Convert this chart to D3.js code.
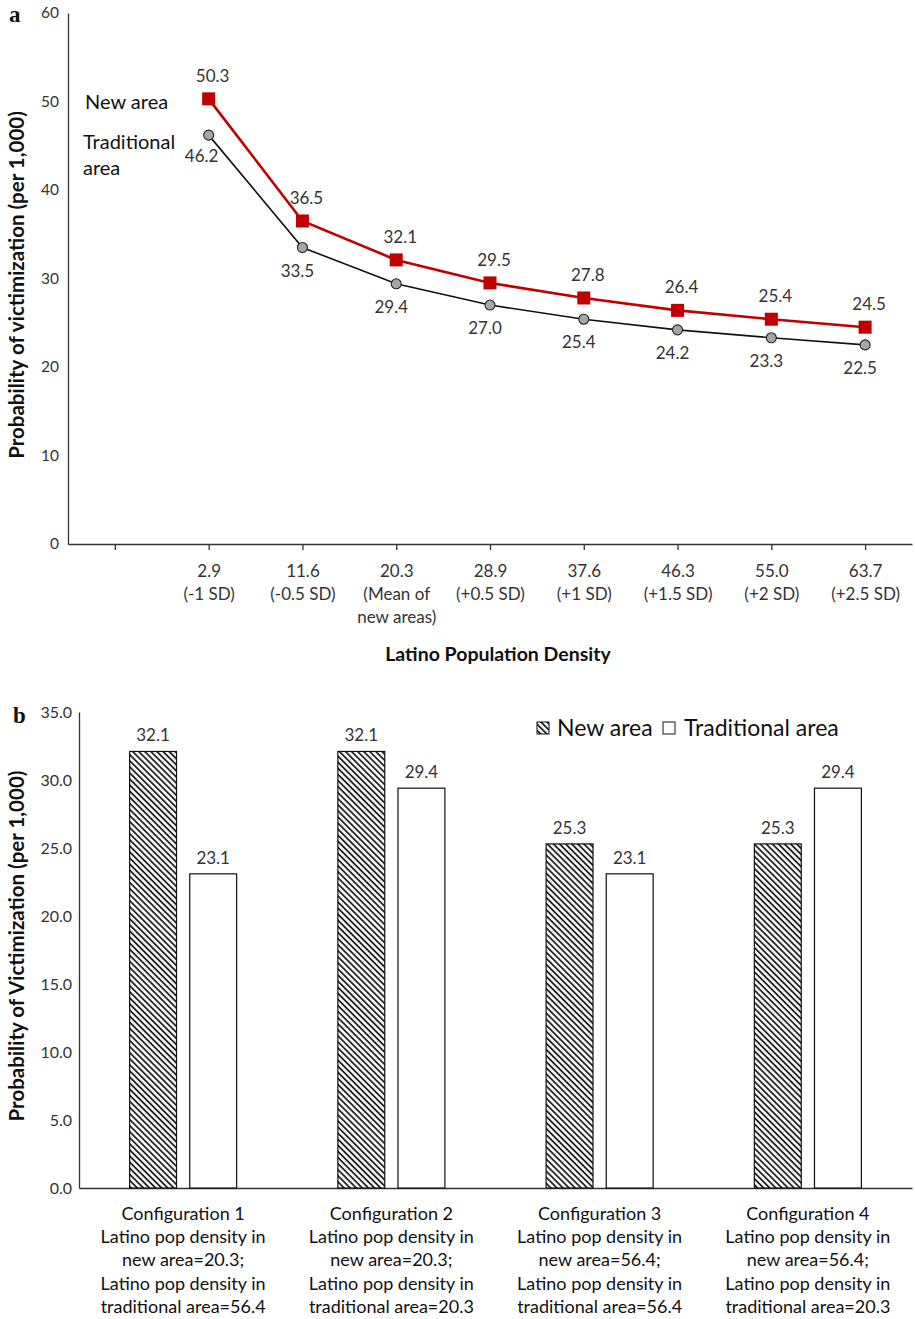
<!DOCTYPE html>
<html>
<head>
<meta charset="utf-8">
<script src="https://cdn.jsdelivr.net/npm/d3@7"></script>
<style>
  body { margin: 0; background: #fff; }
  svg { display: block; font-family: Lato, "Open Sans", sans-serif; }
</style>
</head>
<body>
<svg id="chart" width="915" height="1319"></svg>
<script>
// ---------- Panel a data ----------
const densityCategories = ["", "2.9\n(-1 SD)", "11.6\n(-0.5 SD)", "20.3\n(Mean of\nnew areas)", "28.9\n(+0.5 SD)", "37.6\n(+1 SD)", "46.3\n(+1.5 SD)", "55.0\n(+2 SD)", "63.7\n(+2.5 SD)"];
const newAreaValues = [50.3, 36.5, 32.1, 29.5, 27.8, 26.4, 25.4, 24.5];
const traditionalAreaValues = [46.2, 33.5, 29.4, 27.0, 25.4, 24.2, 23.3, 22.5];
const yTicksA = [0, 10, 20, 30, 40, 50, 60];

// ---------- Panel b data ----------
const configurations = [
  "Configuration 1\nLatino pop density in\nnew area=20.3;\nLatino pop density in\ntraditional area=56.4",
  "Configuration 2\nLatino pop density in\nnew area=20.3;\nLatino pop density in\ntraditional area=20.3",
  "Configuration 3\nLatino pop density in\nnew area=56.4;\nLatino pop density in\ntraditional area=56.4",
  "Configuration 4\nLatino pop density in\nnew area=56.4;\nLatino pop density in\ntraditional area=20.3"
];
const barSeries = ["New area", "Traditional area"];
const newAreaBars = [32.1, 32.1, 25.3, 25.3];
const traditionalAreaBars = [23.1, 29.4, 23.1, 29.4];
const yTicksB = [0, 5, 10, 15, 20, 25, 30, 35];

const svg = d3.select("#chart");
const TXT = "#333";

// hatch pattern
const defs = svg.append("defs");
const pat = defs.append("pattern")
  .attr("id", "hatch").attr("patternUnits", "userSpaceOnUse")
  .attr("width", 4.3).attr("height", 10)
  .attr("patternTransform", "rotate(-45)");
pat.append("rect").attr("width", 4.3).attr("height", 10).attr("fill", "#fff");
pat.append("line").attr("x1", 1).attr("x2", 1).attr("y1", 0).attr("y2", 10)
  .attr("stroke", "#111").attr("stroke-width", 1.7);

// ================= PANEL A =================
const gA = svg.append("g");
const xA = d3.scalePoint().domain(densityCategories).range([68, 912]).padding(0.5);
const yA = d3.scaleLinear().domain([0, 60]).range([544, 13]);

gA.append("text").text("a").attr("x", 9).attr("y", 22)
  .attr("font-family", "'Liberation Serif', 'DejaVu Serif', serif")
  .attr("font-weight", "bold").attr("font-size", 23).attr("fill", "#111");

// y axis
const yAxisA = gA.append("g").attr("transform", "translate(68,0)")
  .call(d3.axisLeft(yA).tickValues(yTicksA).tickSize(0).tickPadding(9).tickFormat(d3.format("d")));
yAxisA.select(".domain").attr("stroke", TXT).attr("stroke-width", 1.3);
yAxisA.selectAll("text").attr("font-size", 15.5).attr("fill", TXT).attr("font-family", "Lato, sans-serif");

// x axis
const xAxisA = gA.append("g").attr("transform", "translate(0,544)")
  .call(d3.axisBottom(xA).tickSizeInner(6).tickSizeOuter(0).tickFormat(""));
xAxisA.select(".domain").attr("stroke", TXT).attr("stroke-width", 1.3);
xAxisA.selectAll(".tick line").attr("stroke", TXT).attr("stroke-width", 1.3);
xAxisA.selectAll(".tick").each(function(d) {
  const lines = d.split("\n");
  const t = d3.select(this).append("text").attr("fill", TXT).attr("font-size", 17)
    .attr("text-anchor", "middle").attr("font-family", "Lato, sans-serif");
  lines.forEach((l, i) => t.append("tspan").attr("x", 0).attr("y", 33 + i * 23).text(l));
});

gA.append("text").text("Latino Population Density")
  .attr("x", 498).attr("y", 661).attr("text-anchor", "middle")
  .attr("font-weight", "bold").attr("font-size", 19.5).attr("fill", "#111");

gA.append("text").text("Probability of victimization (per 1,000)")
  .attr("transform", `translate(24,285) rotate(-90)`)
  .attr("text-anchor", "middle").attr("font-weight", "bold").attr("font-size", 20.5).attr("fill", "#111");

const pointCats = densityCategories.slice(1);
const line = d3.line().x((d, i) => xA(pointCats[i])).y(d => yA(d));

gA.append("path").datum(traditionalAreaValues).attr("d", line)
  .attr("fill", "none").attr("stroke", "#111").attr("stroke-width", 1.6);
gA.append("path").datum(newAreaValues).attr("d", line)
  .attr("fill", "none").attr("stroke", "#c00000").attr("stroke-width", 2.6);

gA.selectAll(".tpt").data(traditionalAreaValues).join("circle")
  .attr("cx", (d, i) => xA(pointCats[i])).attr("cy", d => yA(d)).attr("r", 5)
  .attr("fill", "#a6a6a6").attr("stroke", "#222").attr("stroke-width", 1.1);
gA.selectAll(".npt").data(newAreaValues).join("rect")
  .attr("x", (d, i) => xA(pointCats[i]) - 6.5).attr("y", d => yA(d) - 6.5)
  .attr("width", 13).attr("height", 13).attr("fill", "#c00000");

gA.selectAll(".nlab").data(newAreaValues).join("text")
  .attr("x", (d, i) => xA(pointCats[i]) + 4).attr("y", d => yA(d) - 17)
  .attr("text-anchor", "middle").attr("font-size", 17).attr("fill", TXT)
  .text(d => d.toFixed(1));
gA.selectAll(".tlab").data(traditionalAreaValues).join("text")
  .attr("x", (d, i) => xA(pointCats[i]) - (i === 0 ? 7 : 5)).attr("y", (d, i) => yA(d) + (i === 0 ? 27 : 29))
  .attr("text-anchor", "middle").attr("font-size", 17).attr("fill", TXT)
  .text(d => d.toFixed(1));

gA.append("text").text("New area").attr("x", 85).attr("y", 109)
  .attr("font-size", 20).attr("fill", "#111");
const trLab = gA.append("text").attr("font-size", 20).attr("fill", "#111");
trLab.append("tspan").attr("x", 83).attr("y", 149).text("Traditional");
trLab.append("tspan").attr("x", 83).attr("y", 175).text("area");

// ================= PANEL B =================
const gB = svg.append("g");
const x0 = d3.scaleBand().domain(configurations).range([79, 912]).paddingInner(0.486).paddingOuter(0.243);
const x1 = d3.scaleBand().domain(barSeries).range([0, x0.bandwidth()]).paddingInner(0.22);
const yB = d3.scaleLinear().domain([0, 35]).range([1188, 712]);

gB.append("text").text("b").attr("x", 13).attr("y", 723)
  .attr("font-family", "'Liberation Serif', 'DejaVu Serif', serif")
  .attr("font-weight", "bold").attr("font-size", 23).attr("fill", "#111");

const yAxisB = gB.append("g").attr("transform", "translate(79,0)")
  .call(d3.axisLeft(yB).tickValues(yTicksB).tickSize(0).tickPadding(7).tickFormat(d3.format(".1f")));
yAxisB.select(".domain").attr("stroke", TXT).attr("stroke-width", 1.3);
yAxisB.selectAll("text").attr("font-size", 16).attr("fill", TXT).attr("font-family", "Lato, sans-serif");

const xAxisB = gB.append("g").attr("transform", "translate(0,1188)")
  .call(d3.axisBottom(x0).tickSize(0).tickFormat(""));
xAxisB.select(".domain").attr("stroke", TXT).attr("stroke-width", 1.3);
xAxisB.selectAll(".tick").each(function(d) {
  const lines = d.split("\n");
  const t = d3.select(this).append("text").attr("fill", "#111").attr("font-size", 18)
    .attr("text-anchor", "middle").attr("font-family", "Lato, sans-serif");
  lines.forEach((l, i) => t.append("tspan").attr("x", 0).attr("y", 32 + i * 23.2).text(l));
});

gB.append("text").text("Probability of Victimization (per 1,000)")
  .attr("transform", `translate(24,946) rotate(-90)`)
  .attr("text-anchor", "middle").attr("font-weight", "bold").attr("font-size", 20.5).attr("fill", "#111");

const barData = [];
configurations.forEach((c, i) => {
  barData.push({ cfg: c, s: barSeries[0], v: newAreaBars[i] });
  barData.push({ cfg: c, s: barSeries[1], v: traditionalAreaBars[i] });
});

gB.selectAll(".bar").data(barData).join("rect")
  .attr("x", d => x0(d.cfg) + x1(d.s)).attr("width", x1.bandwidth())
  .attr("y", d => yB(d.v)).attr("height", d => yB(0) - yB(d.v))
  .attr("fill", d => d.s === barSeries[0] ? "url(#hatch)" : "#fff")
  .attr("stroke", "#111").attr("stroke-width", 1.2);

gB.selectAll(".blab").data(barData).join("text")
  .attr("x", d => x0(d.cfg) + x1(d.s) + x1.bandwidth() / 2).attr("y", d => yB(d.v) - 10)
  .attr("text-anchor", "middle").attr("font-size", 17).attr("fill", TXT)
  .text(d => d.v.toFixed(1));

// legend
const lg = gB.append("g");
lg.append("rect").attr("x", 537).attr("y", 722).attr("width", 12).attr("height", 12)
  .attr("fill", "url(#hatch)").attr("stroke", "#111").attr("stroke-width", 1);
lg.append("text").text(barSeries[0]).attr("x", 557).attr("y", 736).attr("font-size", 23).attr("fill", "#111");
lg.append("rect").attr("x", 663).attr("y", 722).attr("width", 12).attr("height", 12)
  .attr("fill", "#fff").attr("stroke", "#111").attr("stroke-width", 1);
lg.append("text").text(barSeries[1]).attr("x", 684).attr("y", 736).attr("font-size", 23).attr("fill", "#111");
</script>
</body>
</html>
